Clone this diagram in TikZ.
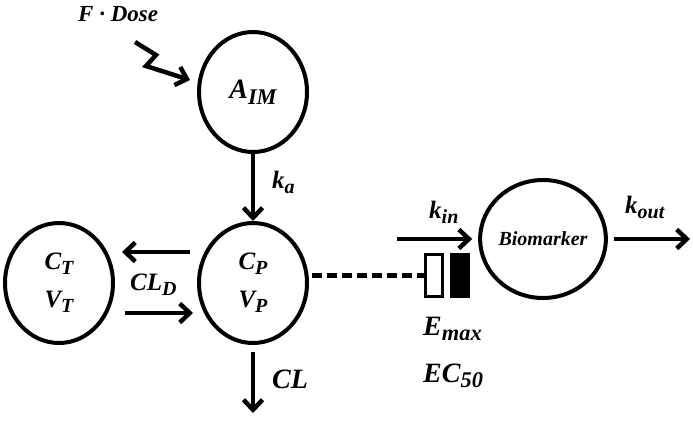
\documentclass[tikz,border=0pt]{standalone}
\usepackage{fontspec}
\setmainfont{Liberation Serif}
\usetikzlibrary{shapes.geometric,arrows.meta,positioning,calc}

% lowered, smaller subscript in text mode
\newcommand{\sbs}[1]{\raisebox{-0.45ex}{\scalebox{0.8}{#1}}}

\begin{document}
\begin{tikzpicture}[
    x=1pt, y=-1pt,
    comp/.style={ellipse, draw=black, line width=4pt, minimum width=108pt, minimum height=120pt, inner sep=0pt, align=center, font=\fontsize{25}{38}\selectfont\bfseries\itshape},
    lbl/.style={font=\fontsize{25}{27}\selectfont\bfseries\itshape, inner sep=0pt},
    big/.style={font=\fontsize{28}{30}\selectfont\bfseries\itshape, inner sep=0pt},
    arr/.style={-{Straight Barb[length=10pt,width=19pt]}, line width=4.5pt},
    bar/.style={rectangle, draw=black, line width=3pt, minimum width=17pt, minimum height=42pt, inner sep=0pt}
]
    \useasboundingbox (0,0) rectangle (693,421);

    % compartments
    \node [comp, font=\fontsize{28}{30}\selectfont\bfseries\itshape] (aim) at (253,92) {A\sbs{IM}};
    \node [comp] (cp) at (253,283) {C\sbs{P}\\V\sbs{P}};
    \node [comp] (ct) at (59,283) {C\sbs{T}\\V\sbs{T}};
    \node [comp, minimum width=106pt, minimum height=118pt, font=\fontsize{20}{22}\selectfont\bfseries\itshape] (bm) at (543,239) {Biomarker};

    % effect bars
    \node [bar] (eo) at (433.5,275) {};
    \node [bar, fill=black] (ef) at (459.5,275) {};

    % free ends
    \coordinate (dose) at (135,42);
    \coordinate (elim) at (253,413);
    \coordinate (kinstart) at (397,239);
    \coordinate (koutend) at (690,239);

    % dosing input
    \node [lbl, font=\fontsize{23}{25}\selectfont\bfseries\itshape, anchor=base west] (fdose) at (78,21) {F · Dose};
    \draw [arr] (dose) -- (156,55) -- (146,66) -- ($(aim.west)+(-7,-12)$);

    % absorption and distribution
    \draw [arr] (aim) -- (cp);
    \node [lbl, anchor=base west] (lka) at (272,188) {k\sbs{a}};
    \draw [arr] ($(cp.west)+(-7,-31)$) -- ($(ct.east)+(7,-31)$);
    \draw [arr] ($(ct.east)+(10,30)$) -- ($(cp.west)+(-4,30)$);
    \node [lbl, anchor=base west] (lcld) at (130,290) {CL\sbs{D}};

    % elimination
    \draw [arr] ($(cp.south)+(0,7)$) -- (elim);
    \node [big, anchor=base west] (lcl) at (272,388) {CL};

    % drug effect link
    \draw [line width=5pt, dash pattern=on 10pt off 5pt] ($(cp.east)+(3,-8)$) -- (eo.west);
    \node [big, anchor=base west] (lemax) at (423,335) {E\sbs{max}};
    \node [big, anchor=base west] (lec) at (423,382) {EC\sbs{50}};

    % turnover
    \draw [arr] (kinstart) -- ($(bm.west)+(-6,0)$);
    \node [lbl, anchor=base west] (lkin) at (429,218) {k\sbs{in}};
    \draw [arr] ($(bm.east)+(6,0)$) -- (koutend);
    \node [lbl, anchor=base west] (lkout) at (625,213) {k\sbs{out}};
\end{tikzpicture}
\end{document}
